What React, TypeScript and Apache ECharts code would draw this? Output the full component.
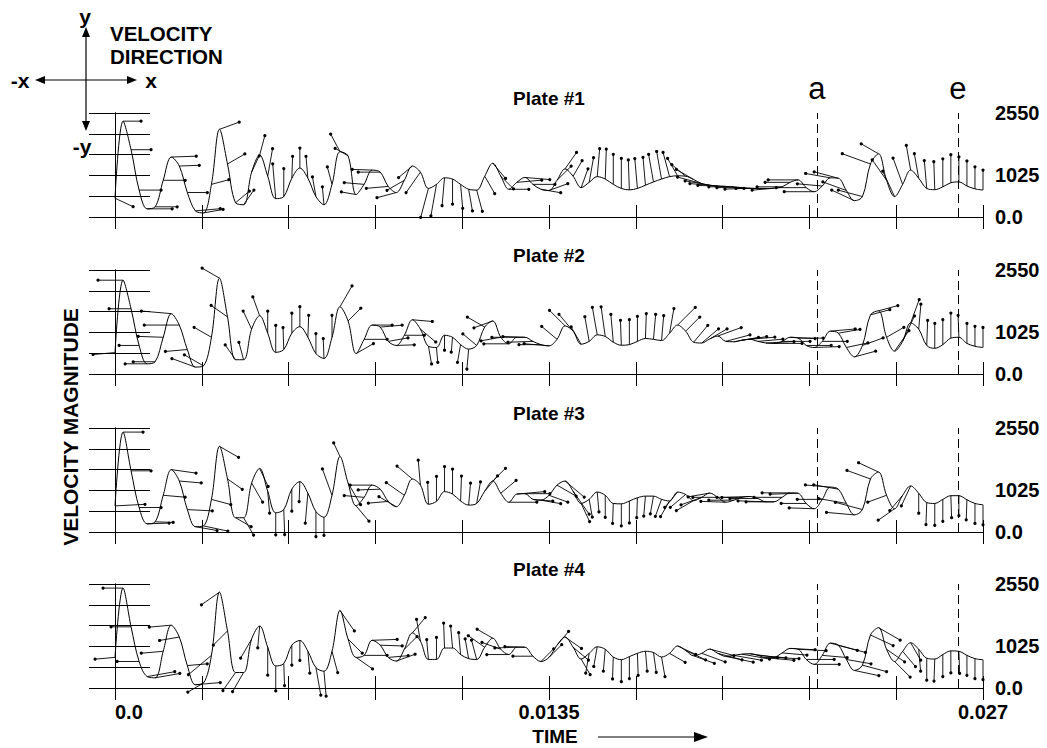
import React, { useEffect, useRef } from 'react';
import * as echarts from 'echarts';

// ---------- data ----------
const SAMPLE_STEP = 0.00025; // sampling interval of the recorded signal (s)
const SAMPLE_COUNT = 109;
const sampleTimes = Array.from({ length: SAMPLE_COUNT }, (_, i) => Number((i * SAMPLE_STEP).toFixed(5)));

const plateTitles = ['Plate #1', 'Plate #2', 'Plate #3', 'Plate #4'];

// velocity magnitude per plate
const plate1Mag = [460,2350,1650,660,200,250,900,1470,1250,600, 150,100,800,2150,1300,350,300,1100,1520,1000, 450,500,950,1200,950,500,300,800,1600,1500, 550,800,1150,1100,750,600,900,1250,1100,700, 800,960,930,800,680,660,1000,1320,1000,680, 850,970,800,680,650,900,1180,1000,720,850, 990,930,800,700,665,700,780,860,930,990, 1010,1000,920,820,780,760,750,740,720,705, 700,700,705,740,850,910,720,620,760,960, 950,650,400,500,1300,1550,900,500,800,1150, 950,700,670,740,840,860,760,690,660];
const plate2Mag = [525,2300,1600,700,250,300,900,1480,1200,600, 170,200,900,2350,1400,350,350,1100,1430,1000, 530,600,1000,1160,900,500,380,900,1650,1300, 500,850,1200,1150,800,700,950,1330,1100,680, 650,950,900,720,610,700,1150,1300,900,740, 900,900,800,720,690,850,1180,1050,730,800, 960,920,780,705,720,800,870,850,820,1000, 1200,1050,780,760,860,930,800,790,830,850, 800,760,750,800,900,880,700,650,800,1050, 1000,650,420,700,1450,1550,900,560,800,1250, 1100,700,630,720,880,900,750,680,650];
const plate3Mag = [640,2450,1500,600,200,250,900,1530,1250,550, 130,150,800,2100,1300,350,350,1200,1560,1000, 470,550,1050,1235,950,500,360,900,1850,1200, 640,850,1150,1050,750,620,900,1300,1150,680, 750,990,930,760,660,700,1000,1250,950,730, 930,940,800,780,900,1150,1250,1000,700,800, 980,900,700,690,760,840,880,880,800,760, 980,920,770,850,955,850,730,780,850,870, 820,740,740,850,960,950,700,570,800,1100, 1050,700,420,550,1300,1470,900,570,900,1130, 950,720,700,800,890,890,790,700,667];
const plate4Mag = [750,2450,1500,650,280,250,900,1540,1250,550, 80,120,800,2350,1400,380,380,1200,1520,1000, 540,600,1050,1165,900,500,410,900,1900,1200, 750,800,1170,1050,750,660,950,1350,1150,700, 700,980,980,820,720,700,1000,1220,950,820, 1000,1000,780,650,750,1050,1250,1000,710,850, 1010,950,760,695,770,850,900,870,760,850, 1030,920,790,850,955,850,775,800,830,840, 800,740,750,860,970,950,700,580,800,1100, 1050,700,430,560,1300,1480,950,650,900,1110, 950,730,710,820,910,900,800,720,693];

// velocity direction per plate (degrees, 0 = +x, 90 = +y)
const plate1Dir = [-25,0,0,0,0,0,0,2,2,0, 5,10,15,20,30,40,55,65,75,80, 95,90,88,90,95,100,95,105,118,150, 170,175,178,180,185,195,210,220,235,255, 260,265,270,275,280,285,300,310,315,0, 5,-5,0,-10,20,45,55,60,70,80, 85,88,90,90,92,95,95,100,100,105, 120,140,150,165,170,175,178,180,180,182, 180,180,185,180,180,180,180,180,175,170, 165,160,155,165,160,150,125,115,110,100, 100,95,92,90,90,90,90,90,90];
const plate2Dir = [185,180,180,180,180,180,178,175,180,185, 160,150,150,150,145,125,105,115,110,90, 90,92,90,90,88,90,92,90,60,45, 30,0,0,5,10,2,0,-5,-40,-80, -85,-90,-95,-100,-95,140,150,200,190,180, 180,178,182,180,175,140,135,130,120,100, 100,98,95,92,90,90,88,85,85,80, 45,45,50,40,30,20,15,10,8,5, 5,3,0,0,-3,0,0,2,0,5, 10,12,15,20,15,15,30,55,65,70, 85,88,90,90,90,92,90,90,90];
const plate3Dir = [3,0,0,0,2,-2,-5,-8,-5,-3, -10,-12,-15,-30,-35,-30,-60,-60,-65,-85, -90,-88,-90,-92,-95,-90,-90,110,115,-60, -50,175,180,182,185,150,145,140,95,92, 90,90,90,88,85,80,50,45,40,0, 5,0,-5,-10,-20,-30,-40,-55,-65,-80, -85,-90,-92,-90,-90,-92,-95,-100,-110,-120, -130,-140,-150,-160,-170,180,178,180,180,182, 180,178,180,180,180,182,180,178,180,175, 170,170,175,165,160,155,200,215,230,245, -90,-92,-90,-90,-88,-90,-92,-90,-90];
const plate4Dir = [185,180,180,180,10,10,185,185,190,5, 5,210,220,215,225,235,240,240,-95,-90, -90,-88,-90,-90,-85,-80,-85,-75,-55,-45, -35,0,2,-2,5,20,45,50,100,95, 90,92,95,95,100,105,145,150,160,180, 182,178,180,45,45,50,-35,-40,-60,-100, -100,-95,-92,-90,-90,-88,-85,-82,-80,-30, -25,-25,-20,-20,-15,-15,-12,-10,-10,-8, -5,-5,-3,-5,-3,-3,0,0,-5,-15, -15,-10,-12,-15,-25,-30,-35,-45,-50,-60, -85,-90,-92,-90,-90,-88,-90,-90,-90];

// drawn vector length per sample (px)
const plate1VecLen = [20,18,20,22,25,22,22,25,20,20, 25,20,18,21,20,18,18,18,20,28, 35,28,22,20,22,20,18,18,20,15, 15,20,20,22,22,20,20,18,25,30, 32,28,25,24,22,22,20,20,18,20, 25,25,22,20,20,20,20,18,20,25, 28,30,30,30,30,30,28,28,28,25, 20,18,20,25,25,28,28,25,25,25, 22,22,22,25,25,30,30,30,25,25, 25,25,25,25,30,20,25,28,28,25, 25,28,28,28,28,25,25,22,20];
const plate2VecLen = [22,25,22,20,22,22,25,30,35,22, 25,22,20,20,20,18,18,20,20,22, 27,22,20,20,22,20,20,22,24,18, 20,23,20,22,20,18,20,20,20,18, 15,15,15,18,20,18,20,20,20,25, 25,22,25,22,25,20,22,22,20,25, 28,30,28,25,25,25,25,25,25,25, 25,20,22,22,20,25,25,25,25,25, 25,28,28,28,25,25,25,25,25,25, 22,22,22,22,20,20,20,25,28,25, 25,25,25,25,25,22,20,20,20];
const plate3VecLen = [30,20,20,22,22,18,22,25,22,25, 22,25,20,22,18,18,20,22,20,22, 22,25,22,20,30,25,18,28,15,25, 20,20,22,22,20,20,22,20,25,22, 25,25,25,25,22,22,20,18,20,28, 28,25,20,20,20,22,25,28,20,18, 20,22,20,22,22,20,20,18,18,18, 20,20,20,22,22,25,25,25,25,28, 28,28,28,28,28,28,25,25,25,25, 25,28,28,28,25,22,20,20,20,22, 20,22,22,22,22,20,20,20,20];
const plate4VecLen = [20,20,20,22,28,25,22,22,20,20, 25,18,30,22,20,22,22,22,22,28, 25,22,20,20,22,28,25,22,25,20, 20,23,25,22,20,20,18,20,22,20, 22,25,22,22,20,20,20,18,20,22, 22,20,20,18,18,18,20,20,18,20, 20,22,22,22,22,22,20,20,20,18, 20,22,22,25,25,25,28,28,28,28, 28,28,25,25,25,28,28,25,25,28, 28,25,25,25,25,25,22,22,20,20, 22,22,22,22,22,22,20,20,20];

const plateMags = [plate1Mag, plate2Mag, plate3Mag, plate4Mag];
const plateDirs = [plate1Dir, plate2Dir, plate3Dir, plate4Dir];
const plateVecLens = [plate1VecLen, plate2VecLen, plate3VecLen, plate4VecLen];

const eventTimes = [0.02183, 0.02622];
const eventLabels = ['a', 'e'];

const timeLabelValues = [0, 0.0135, 0.027];
const timeLabelTexts = ['0.0', '0.0135', '0.027'];
const magLabelValues = [0, 1025, 2550];
const magLabelTexts = ['0.0', '1025', '2550'];

// ---------- layout ----------
const FONT = '"Liberation Sans", Arial, Helvetica, sans-serif';
const GRID_LEFT = 115;
const GRID_WIDTH = 868;
const GRID_HEIGHT = 104;
const GRID_TOPS = [113, 270, 428, 584];

function findLabel(values: number[], texts: string[], v: number) {
  const k = values.findIndex((x) => Math.abs(x - v) < 1e-9);
  return k >= 0 ? texts[k] : '';
}

export default function App() {
  const ref = useRef<HTMLDivElement>(null);

  useEffect(() => {
    document.body.style.margin = '0';
    if (!ref.current) return;
    const chart = echarts.init(ref.current, undefined, { renderer: 'svg' });

    const grids: any[] = [];
    const xAxes: any[] = [];
    const yAxes: any[] = [];
    const series: any[] = [];
    const graphics: any[] = [];

    plateTitles.forEach((title, p) => {
      const top = GRID_TOPS[p];
      grids.push({ left: GRID_LEFT, top, width: GRID_WIDTH, height: GRID_HEIGHT, containLabel: false });
      const isLast = p === plateTitles.length - 1;
      const xBase = {
        type: 'value', gridIndex: p, min: 0, max: 0.027, interval: 0.0027,
        axisLine: { show: true, lineStyle: { color: '#000', width: 1 } },
        axisTick: { show: true, inside: true, length: 12, lineStyle: { color: '#000', width: 1 } },
        splitLine: { show: false },
      };
      xAxes.push({
        ...xBase, position: 'bottom',
        axisLabel: {
          show: isLast, customValues: timeLabelValues,
          formatter: (v: number) => findLabel(timeLabelValues, timeLabelTexts, v),
          alignMinLabel: 'left',
          color: '#000', fontSize: 20, fontWeight: 'bold', fontFamily: FONT, margin: 14,
        },
      });
      xAxes.push({ ...xBase, position: 'top', axisLabel: { show: false } });
      const yBase = {
        type: 'value', gridIndex: p, min: 0, max: 2550, interval: 510,
        axisLine: { show: true, lineStyle: { color: '#000', width: 1 } },
        splitLine: { show: false },
      };
      yAxes.push({
        ...yBase, position: 'left',
        axisTick: { show: true, inside: true, length: 35, lineStyle: { color: '#000', width: 1 } },
        axisLabel: { show: false },
      });
      yAxes.push({
        ...yBase, position: 'right',
        axisTick: { show: true, inside: true, length: 26, lineStyle: { color: '#000', width: 1 } },
        axisLabel: {
          show: true, customValues: magLabelValues,
          formatter: (v: number) => findLabel(magLabelValues, magLabelTexts, v),
          color: '#000', fontSize: 20, fontWeight: 'bold', fontFamily: FONT, margin: 12,
        },
      });

      const mags = plateMags[p];
      const lineData = sampleTimes.map((t, i) => [t, mags[i]]);
      series.push({
        type: 'line', xAxisIndex: p * 2, yAxisIndex: p * 2,
        data: lineData, smooth: 0.35, showSymbol: false, symbol: 'none',
        lineStyle: { color: '#000', width: 1 }, z: 3,
        markLine: {
          silent: true, symbol: ['none', 'none'], animation: false, precision: 6,
          lineStyle: { color: '#000', width: 1, type: [9, 5] },
          label: { show: false },
          data: eventTimes.map((et, k) => ({
            xAxis: et,
            label: p === 0
              ? { show: true, position: 'end', formatter: eventLabels[k], color: '#000', fontSize: 31, fontFamily: FONT, distance: 9 }
              : { show: false },
          })),
        },
      });

      const vecData = sampleTimes.map((t, i) => [t, mags[i], plateDirs[p][i], plateVecLens[p][i]]);
      series.push({
        type: 'custom', xAxisIndex: p * 2, yAxisIndex: p * 2, clip: false, z: 4,
        data: vecData,
        encode: { x: 0, y: 1 },
        renderItem: (_params: any, api: any) => {
          const t = api.value(0);
          const v = api.value(1);
          const a = (api.value(2) * Math.PI) / 180;
          const L = api.value(3);
          const s = api.coord([t, v]);
          const ex = s[0] + L * Math.cos(a);
          const ey = s[1] - L * Math.sin(a);
          return {
            type: 'group',
            children: [
              { type: 'line', shape: { x1: s[0], y1: s[1], x2: ex, y2: ey }, style: { stroke: '#000', lineWidth: 0.9 } },
              { type: 'circle', shape: { cx: ex, cy: ey, r: 1.6 }, style: { fill: '#000' } },
            ],
          };
        },
      });

      graphics.push({
        type: 'text', x: GRID_LEFT + GRID_WIDTH / 2, y: top - 15,
        style: { text: title, font: `bold 19px ${FONT}`, fill: '#000', textAlign: 'center', textVerticalAlign: 'middle' },
      });
    });

    // axis titles and direction legend
    graphics.push(
      {
        type: 'text', x: 70, y: 427, rotation: Math.PI / 2,
        style: { text: 'VELOCITY MAGNITUDE', font: `bold 21px ${FONT}`, fill: '#000', textAlign: 'center', textVerticalAlign: 'middle' },
      },
      { type: 'text', x: 555, y: 736, style: { text: 'TIME', font: `bold 19px ${FONT}`, fill: '#000', textAlign: 'center', textVerticalAlign: 'middle' } },
      { type: 'line', shape: { x1: 598, y1: 737, x2: 696, y2: 737 }, style: { stroke: '#000', lineWidth: 1.2 } },
      { type: 'polygon', shape: { points: [[708, 737], [694, 732], [694, 742]] }, style: { fill: '#000' } },
      // direction cross
      { type: 'line', shape: { x1: 86, y1: 34, x2: 86, y2: 124 }, style: { stroke: '#000', lineWidth: 1.2 } },
      { type: 'line', shape: { x1: 42, y1: 80, x2: 130, y2: 80 }, style: { stroke: '#000', lineWidth: 1.2 } },
      { type: 'polygon', shape: { points: [[86, 27], [82, 37], [90, 37]] }, style: { fill: '#000' } },
      { type: 'polygon', shape: { points: [[86, 131], [82, 121], [90, 121]] }, style: { fill: '#000' } },
      { type: 'polygon', shape: { points: [[35, 80], [45, 76], [45, 84]] }, style: { fill: '#000' } },
      { type: 'polygon', shape: { points: [[137, 80], [127, 76], [127, 84]] }, style: { fill: '#000' } },
      { type: 'text', x: 85, y: 16, style: { text: 'y', font: `bold 21px ${FONT}`, fill: '#000', textAlign: 'center', textVerticalAlign: 'middle' } },
      { type: 'text', x: 20, y: 80, style: { text: '-x', font: `bold 21px ${FONT}`, fill: '#000', textAlign: 'center', textVerticalAlign: 'middle' } },
      { type: 'text', x: 151, y: 80, style: { text: 'x', font: `bold 21px ${FONT}`, fill: '#000', textAlign: 'center', textVerticalAlign: 'middle' } },
      { type: 'text', x: 82, y: 146, style: { text: '-y', font: `bold 21px ${FONT}`, fill: '#000', textAlign: 'center', textVerticalAlign: 'middle' } },
      { type: 'text', x: 110, y: 33, style: { text: 'VELOCITY', font: `bold 20.5px ${FONT}`, fill: '#000', textAlign: 'left', textVerticalAlign: 'middle' } },
      { type: 'text', x: 110, y: 56, style: { text: 'DIRECTION', font: `bold 20.5px ${FONT}`, fill: '#000', textAlign: 'left', textVerticalAlign: 'middle' } },
    );

    chart.setOption({
      animation: false,
      backgroundColor: '#fff',
      grid: grids,
      xAxis: xAxes,
      yAxis: yAxes,
      series,
      graphic: { elements: graphics },
    });

    return () => chart.dispose();
  }, []);

  return <div ref={ref} style={{ width: 1047, height: 748 }} />;
}
